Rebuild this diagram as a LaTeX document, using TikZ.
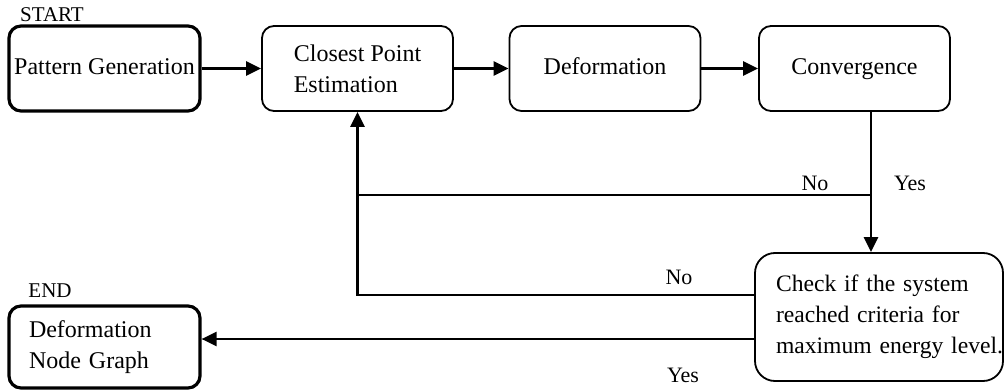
\documentclass[tikz,border=0pt]{standalone}
\usepackage{fontspec}
\setmainfont{Liberation Serif}
\usetikzlibrary{shapes,arrows.meta}

\tikzset{
  block/.style={draw, line width=0.9pt, rounded corners=6pt, inner xsep=2pt,
    minimum width=95.5pt, minimum height=42.5pt, font=\fontsize{12}{15.5}\selectfont},
  terminal/.style={block, line width=1.6pt},
  oneline/.style={text height=8.5pt, text depth=2.5pt},
  line/.style={line width=1.2pt},
  arrow/.style={line, -{Triangle[length=7.5pt,width=7pt]}},
  tag/.style={font=\fontsize{11}{13}\selectfont},
  endtag/.style={font=\fontsize{10.5}{12}\selectfont},
}

\begin{document}
\begin{tikzpicture}[x=0.5pt,y=0.5pt]
\useasboundingbox (0,0) rectangle (1005,391);
% main row
\node[terminal, oneline] (gen) at (104.5,322.5) {Pattern Generation};
\node[block, align=left] (cpe) at (357.5,322.5) {Closest Point\\Estimation};
\node[block, oneline] (def) at (605,322.5) {Deformation};
\node[block, oneline] (conv) at (854.5,322.5) {Convergence};
\node[endtag] (start) at (52,376) {START};
% energy check
\node[block, rounded corners=10pt, text width=103pt, inner xsep=10.5pt,
  minimum height=64pt, align=left, font=\fontsize{11.8}{15.5}\selectfont] (check) at (879,74)
  {Check if the system\\reached criteria for\\\mbox{maximum energy level.}};
% end
\node[terminal, text width=75.5pt, inner xsep=10pt, minimum height=41pt,
  align=left] (endbox) at (104.5,44) {Deformation\\Node Graph};
\node[endtag] (end) at (50,100) {END};
% connectors
\draw[arrow] (gen) -- (cpe);
\draw[arrow] (cpe) -- (def);
\draw[arrow] (def) -- (conv);
\coordinate (split) at (871,196);
\draw[line] (conv.south -| split) -- (split);
\draw[arrow] (split) -- (split |- check.north);
\draw[line] (split) -- (split -| cpe.south);
\draw[arrow] ([yshift=11pt]check.west) -| (cpe.south);
\draw[arrow] ([yshift=-11pt]check.west) -- ([yshift=-11pt]check.west -| endbox.east);
% answers
\node[tag] (no1) at (815,208) {No};
\node[tag] (yes1) at (910,208) {Yes};
\node[tag] (no2) at (679,114) {No};
\node[tag] (yes2) at (683,16) {Yes};
\end{tikzpicture}
\end{document}
